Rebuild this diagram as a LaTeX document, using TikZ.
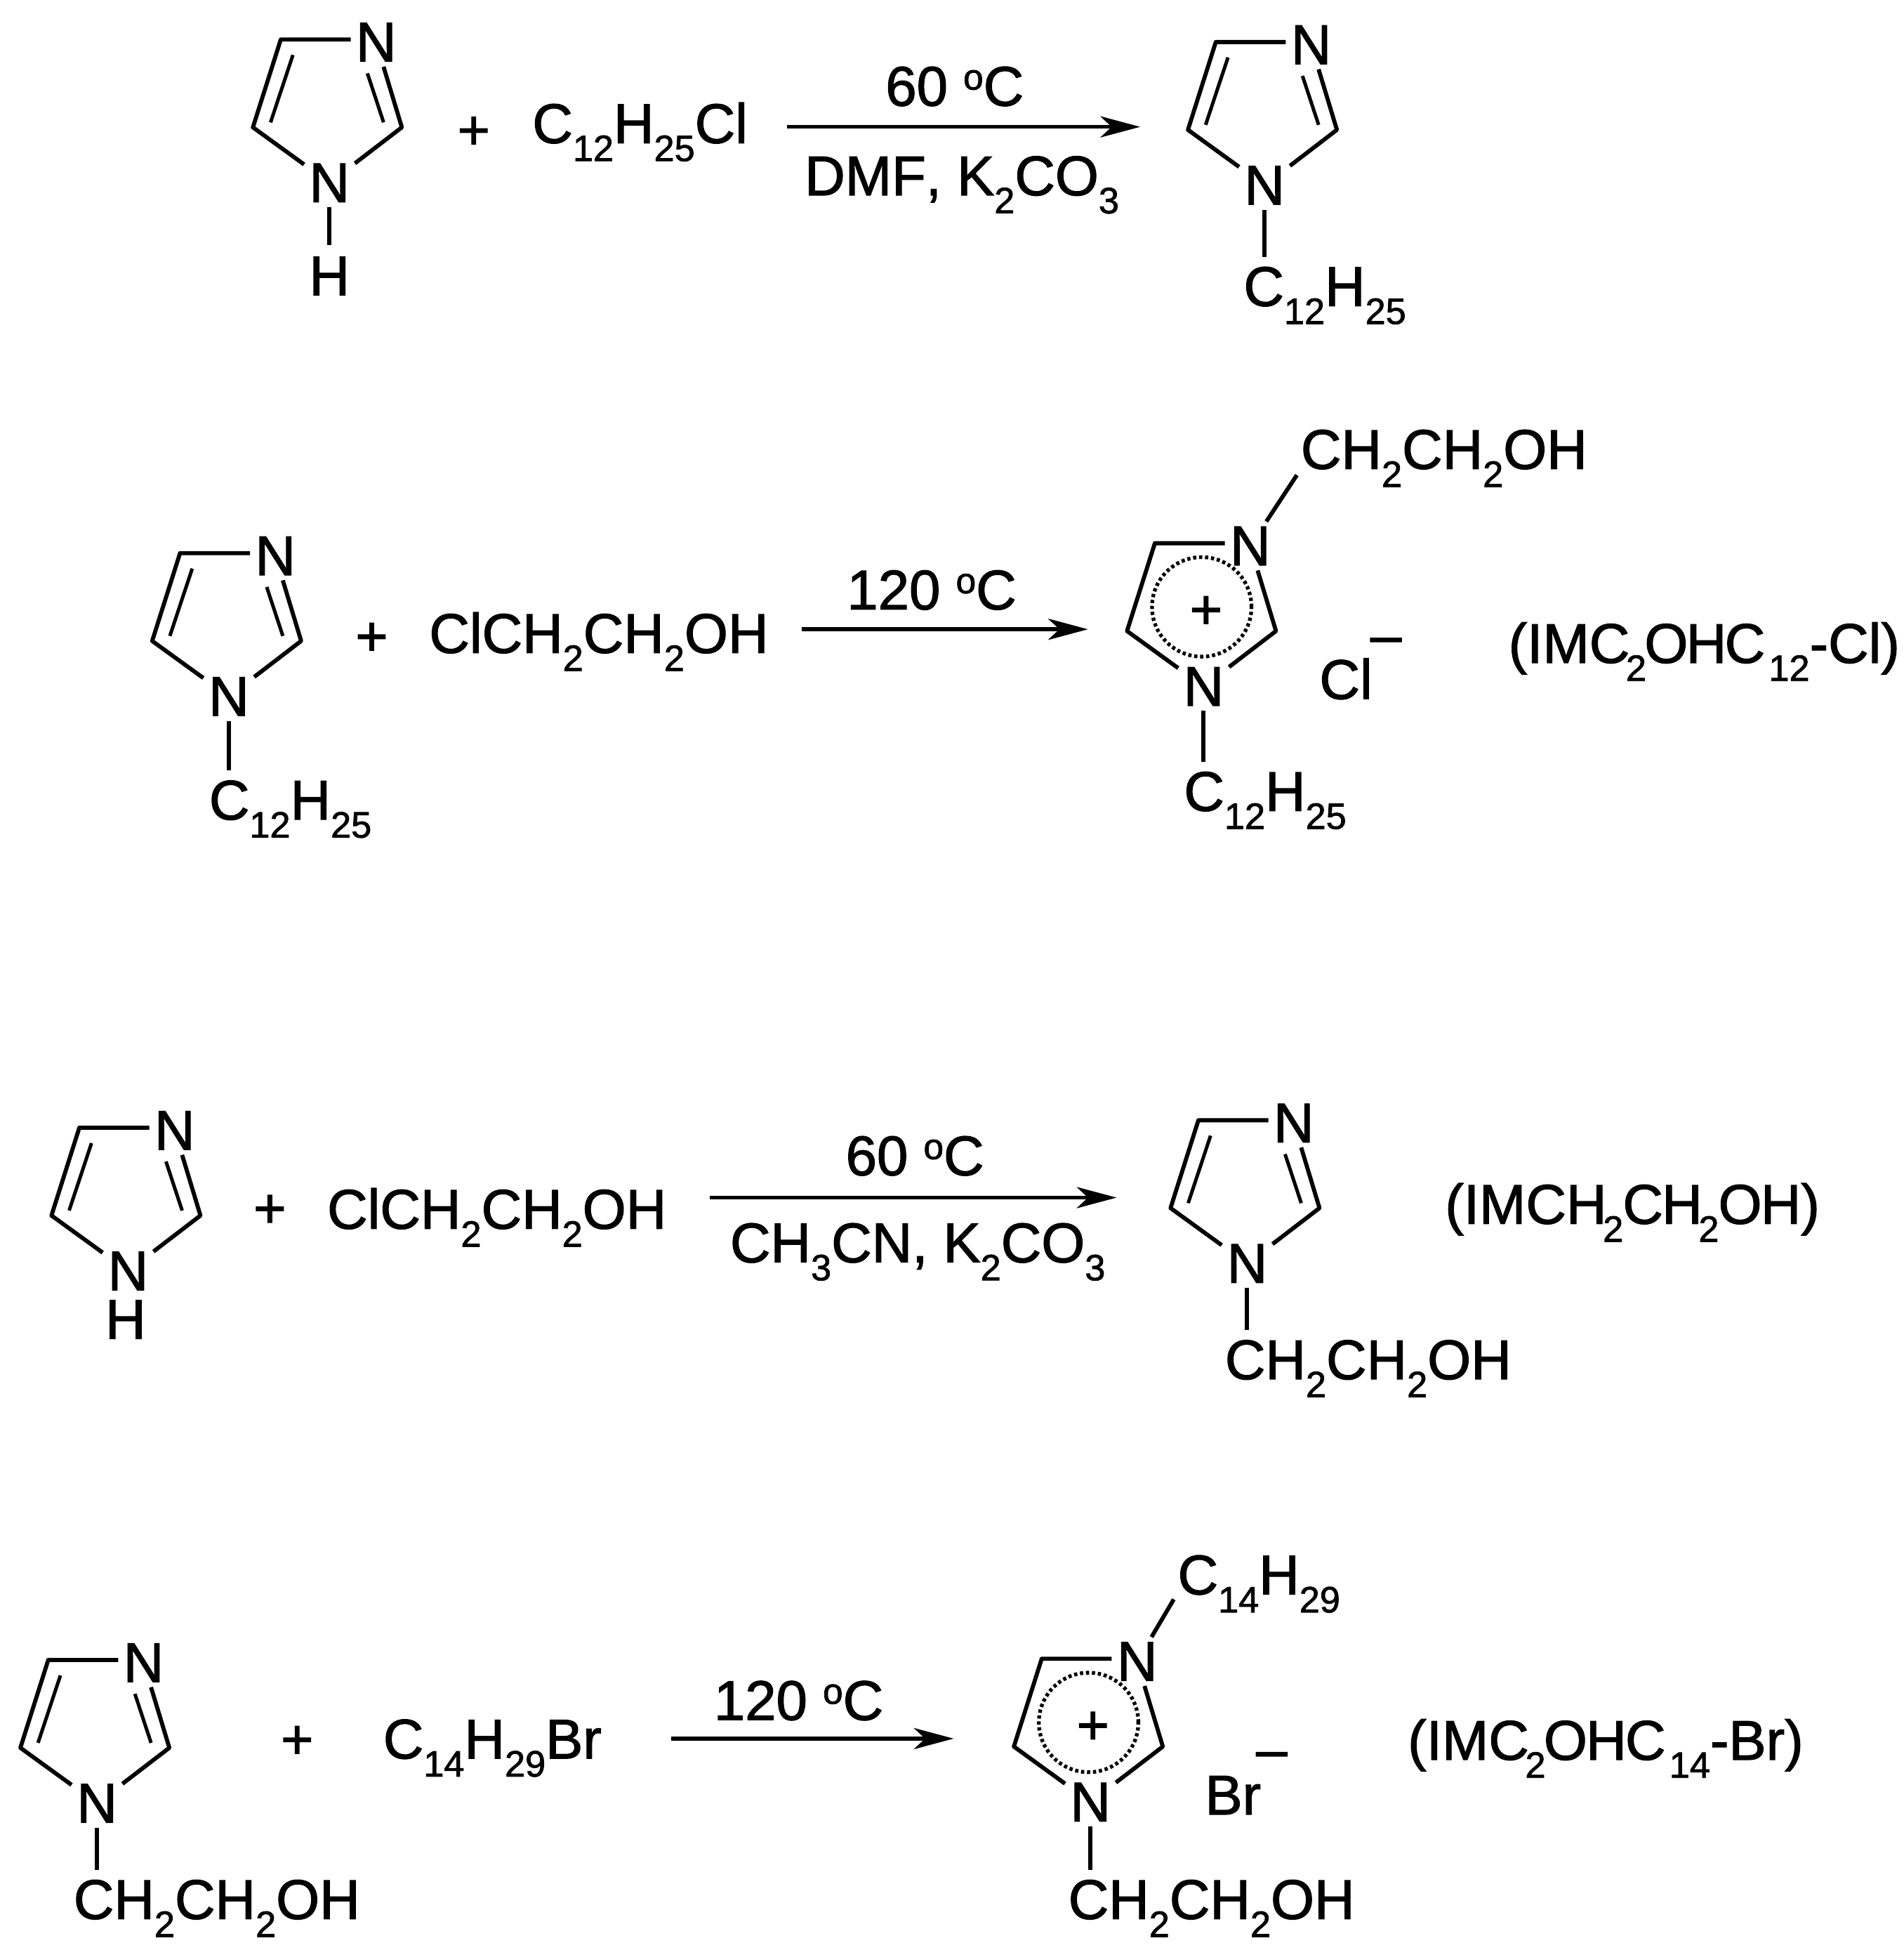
\documentclass[tikz,border=0pt]{standalone}
\usepackage{fontspec}
\setmainfont{Liberation Sans}[Kerning=Off,UprightFeatures={FakeBold=1.5}]
\usetikzlibrary{arrows.meta}

% Subscript digits and the raised o of the degree sign
\newcommand{\sbs}[1]{\raisebox{-14.5pt}{\fontsize{29.5}{30}\selectfont #1}}
\newcommand{\dego}{\raisebox{13pt}{\fontsize{29}{30}\selectfont o}}

% The five ring bonds shared by both ring drawings
\newcommand{\ringbonds}{%
    \node[atom] (N1) at (0,0) {N};
    \node[atom] (N3) at (37.5,-113) {N};
    \coordinate (C2) at (58.2,-44.6);
    \coordinate (C4) at (-39.2,-115.2);
    \coordinate (C5) at (-61.6,-44.6);
    \draw[bond] (N3.west |- C4) -- (C4) -- (C5) -- (N1);
    \draw[bond] (N1) -- (C2) -- (N3);
}

\tikzset{
    bond/.style={line width=3.3pt,line join=round},
    rxn/.style={line width=3.2pt,-{Stealth[length=32pt,width=17pt,inset=9pt]}},
    atom/.style={inner sep=4pt},
    chem/.style={anchor=base west,inner xsep=0pt,inner ysep=8pt},
    pics/imring/.style={code={
        \ringbonds
        \draw[bond,line width=2.8pt] (43.5,-48.6) -- (30.5,-88);
        \draw[bond,line width=2.8pt] (-47.4,-48.6) -- (-29.4,-102.8);
    }},
    pics/imcation/.style={code={
        \ringbonds
        \draw[line width=3pt,dash pattern=on 2.6pt off 2.2pt] (-1.5,-64) circle [radius=40pt];
        \node (P) at (2,-59.5) {+};
    }}
}

\begin{document}
\begin{tikzpicture}[x=1pt,y=-1pt,font=\fontsize{45}{54}\selectfont]
    \useasboundingbox (0,0) rectangle (1531,1568);

    % Row 1: N-dodecylimidazole
    \pic (ra) at (265,147) {imring};
    \node[atom] (raH) at (265,222) {H};
    \draw[bond,shorten >=5pt] (raN1) -- (raH);
    \node (raplus) at (381,107) {+};
    \node[chem] (raalk) at (428,115) {C\sbs{12}H\sbs{25}Cl};
    \coordinate (rastart) at (633,102);
    \coordinate (raend) at (917,102);
    \draw[rxn] (rastart) -- (raend);
    \node[chem] (ratemp) at (712,85) {60 \dego C};
    \node[chem] (racond) at (647,157) {DMF, K\sbs{2}CO\sbs{3}};
    \pic (pa) at (1017,149) {imring};
    \node[chem] (paalk) at (1000,246) {C\sbs{12}H\sbs{25}};
    \draw[bond] (paN1) -- (paN1 |- paalk.north);

    % Row 2: chloride salt
    \pic (rb) at (184,560) {imring};
    \node[chem] (rbalk) at (168,659) {C\sbs{12}H\sbs{25}};
    \draw[bond] (rbN1) -- (rbN1 |- rbalk.north);
    \node (rbplus) at (299,514) {+};
    \node[chem] (rbalc) at (345,525) {ClCH\sbs{2}CH\sbs{2}OH};
    \coordinate (rbstart) at (645,506);
    \coordinate (rbend) at (875,506);
    \draw[rxn] (rbstart) -- (rbend);
    \node[chem] (rbtemp) at (681,490) {120 \dego C};
    \pic (pb) at (968,552) {imcation};
    \node[chem] (pbalc) at (1046,377) {CH\sbs{2}CH\sbs{2}OH};
    \draw[bond] (pbN3) -- ([shift={(-3,5)}]pbalc.base west);
    \node[chem] (pbalk) at (952,652) {C\sbs{12}H\sbs{25}};
    \draw[bond] (pbN1) -- (pbN1 |- pbalk.north);
    \node[chem] (pbcl) at (1061,562) {Cl};
    \node[chem] (pbminus) at (1102,526) {–};
    \node[chem] (pbname) at (1213,533) {(IMC\kern-3pt\sbs{2}\kern-1.5pt O\kern-1.5pt H\kern-1.5pt C\kern3pt\sbs{12}-Cl)};

    % Row 3: hydroxyethyl imidazole
    \pic (rc) at (103,1022) {imring};
    \node[inner sep=0pt] (rcH) at (101,1061) {H};
    \node (rcplus) at (217,974) {+};
    \node[chem] (rcalc) at (263,988) {ClCH\sbs{2}CH\sbs{2}OH};
    \coordinate (rcstart) at (571,963);
    \coordinate (rcend) at (898,963);
    \draw[rxn] (rcstart) -- (rcend);
    \node[chem] (rctemp) at (680,945) {60 \dego C};
    \node[chem] (rccond) at (587,1015) {CH\sbs{3}CN, K\sbs{2}CO\sbs{3}};
    \pic (pc) at (1003,1016) {imring};
    \node[chem] (pcalc) at (985,1109) {CH\sbs{2}CH\sbs{2}OH};
    \draw[bond] (pcN1) -- (pcN1 |- pcalc.north);
    \node[chem] (pcname) at (1162,984) {(IMCH\kern-3pt\sbs{2}\kern-.5pt C\kern-1pt H\kern-3pt\sbs{2}\kern-.5pt O\kern-1pt H)};

    % Row 4: bromide salt
    \pic (rd) at (78,1450) {imring};
    \node[chem] (rdalc) at (59,1543) {CH\sbs{2}CH\sbs{2}OH};
    \draw[bond] (rdN1) -- (rdN1 |- rdalc.north);
    \node (rdplus) at (239,1401) {+};
    \node[chem] (rdalk) at (308,1414) {C\sbs{14}H\sbs{29}Br};
    \coordinate (rdstart) at (540,1398);
    \coordinate (rdend) at (767,1398);
    \draw[rxn] (rdstart) -- (rdend);
    \node[chem] (rdtemp) at (574,1383) {120 \dego C};
    \pic (pd) at (877,1449) {imcation};
    \node[chem] (pdalk) at (947,1282) {C\sbs{14}H\sbs{29}};
    \draw[bond] (pdN3) -- ([shift={(-3,4)}]pdalk.base west);
    \node[chem] (pdalc) at (859,1543) {CH\sbs{2}CH\sbs{2}OH};
    \draw[bond] (pdN1) -- (pdN1 |- pdalc.north);
    \node[chem] (pdbr) at (969,1459) {Br};
    \node[chem] (pdminus) at (1010,1422) {–};
    \node[chem] (pdname) at (1132,1415) {(IMC\kern-3pt\sbs{2}\kern-1.5pt O\kern-1pt H\kern-1pt C\kern3pt\sbs{14}-Br)};
\end{tikzpicture}
\end{document}
